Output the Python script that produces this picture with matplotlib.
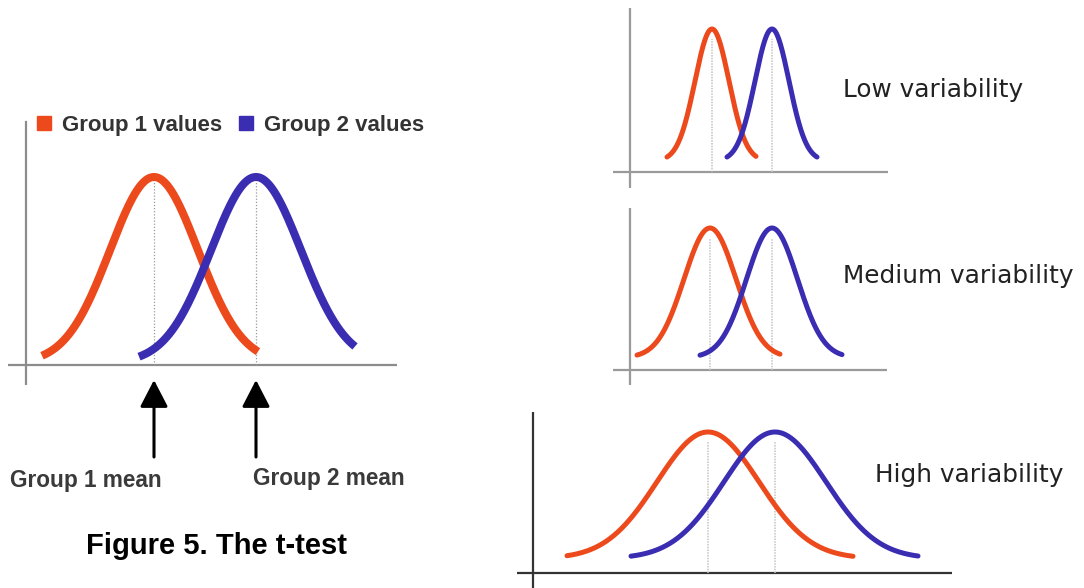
import numpy as np
import matplotlib
matplotlib.use('Agg')
import matplotlib.pyplot as plt
from matplotlib.lines import Line2D

# ---------------- data ----------------
series_labels = ['Group 1 values', 'Group 2 values']
mean_labels = ['Group 1 mean', 'Group 2 mean']
figure_title = 'Figure 5. The t-test'

# left panel: score units
left_means = [12.8, 23.0]
left_sds = [4.4, 4.5]
left_starts = [1.6, 11.3]
left_ends = [23.2, 32.9]
left_peak = 18.8
left_base = 0.2

# right panels
panel_titles = ['Low variability', 'Medium variability', 'High variability']
panel_means = [[8.2, 14.2], [8.0, 14.2], [17.5, 24.2]]
panel_sds = [[1.7, 1.7], [2.6, 2.55], [5.1, 5.1]]
panel_starts = [[3.7, 9.7], [0.7, 7.0], [3.4, 9.8]]
panel_ends = [[12.6, 18.7], [15.0, 21.2], [32.0, 38.5]]
panel_peaks = [14.3, 14.2, 14.1]
panel_bases = [1.1, 1.24, 1.45]

# ---------------- style / layout ----------------
W, H, DPI = 1084, 588, 100
RED = '#EC4A1C'
BLUE = '#3A2DB2'
COLORS = [RED, BLUE]
PX_PER_UNIT = 10.0

fig = plt.figure(figsize=(W / DPI, H / DPI), dpi=DPI)
fig.patch.set_facecolor('white')


def make_axes(x0, y0, x1, y1, ox, oy):
    """Axes occupying pixel box (x0,y0)-(x1,y1); data origin at pixel (ox, oy)."""
    ax = fig.add_axes([x0 / W, 1 - y1 / H, (x1 - x0) / W, (y1 - y0) / H])
    ax.set_xlim((x0 - ox) / PX_PER_UNIT, (x1 - ox) / PX_PER_UNIT)
    ax.set_ylim((oy - y1) / PX_PER_UNIT, (oy - y0) / PX_PER_UNIT)
    ax.set_axis_off()
    return ax


def curve(mu, sd, x0, x1, peak, base):
    x = np.linspace(x0, x1, 300)
    y = base + (peak - base) * np.exp(-0.5 * ((x - mu) / sd) ** 2)
    return x, y


# ---------------- left panel ----------------
axL = make_axes(8, 112, 397, 385, 26, 365)
axL.axhline(0, color='#8c8c8c', lw=1.6, zorder=1)
axL.axvline(0, ymax=((365 - 122) / 10 + 2.0) / ((365 - 112) / 10 + 2.0),
            color='#8c8c8c', lw=1.6, zorder=1)
for mu, sd, s, e, c in zip(left_means, left_sds, left_starts, left_ends, COLORS):
    x, y = curve(mu, sd, s, e, left_peak, left_base)
    axL.plot(x, y, color=c, lw=5.8, solid_capstyle='butt', zorder=3)
    axL.vlines(mu, 0, left_peak, color='#9a9a9a', lw=0.9,
               linestyles=(0, (1, 1.5)), zorder=2)
    axL.annotate('', xy=(mu, -1.5), xytext=(mu, -9.2), annotation_clip=False,
                 arrowprops=dict(arrowstyle='-|>,head_length=0.83,head_width=0.43',
                                 mutation_scale=20, color='black', lw=2.2,
                                 shrinkA=0, shrinkB=0))

handles = [Line2D([], [], marker='s', linestyle='none', markersize=9.4,
                  markerfacecolor=c, markeredgecolor=c) for c in COLORS]
fig.legend(handles, series_labels, loc='upper left',
           bbox_to_anchor=(36.5 / W, 1 - 115 / H), ncol=2, frameon=False,
           borderpad=0, borderaxespad=0, handlelength=0.68, handletextpad=0.47,
           columnspacing=0.72,
           prop=dict(family='Liberation Sans', weight='bold', size=16),
           labelcolor='#333333')

fig.text(10 / W, 1 - 487 / H, mean_labels[0], ha='left', va='baseline',
         family='Liberation Sans', weight='bold', fontsize=16.3, color='#3a3a3a')
fig.text(253 / W, 1 - 485 / H, mean_labels[1], ha='left', va='baseline',
         family='Liberation Sans', weight='bold', fontsize=16.3, color='#3a3a3a')
fig.text(217 / W, 1 - 554 / H, figure_title, ha='center', va='baseline',
         family='Liberation Sans', weight='bold', fontsize=21, color='black')

# ---------------- right panels ----------------
boxes = [(613, 8, 888, 188, 630, 172),
         (613, 208, 887, 385, 630, 370),
         (517, 412, 952, 588, 533, 573)]
axis_colors = ['#9a9a9a', '#9a9a9a', '#333333']
text_pos = [(843, 97), (843, 283), (875, 482)]

for i, box in enumerate(boxes):
    ax = make_axes(*box)
    ax.axhline(0, color=axis_colors[i], lw=1.6, zorder=1)
    ax.axvline(0, color=axis_colors[i], lw=1.6, zorder=1)
    for mu, sd, s, e, c in zip(panel_means[i], panel_sds[i], panel_starts[i],
                               panel_ends[i], COLORS):
        x, y = curve(mu, sd, s, e, panel_peaks[i], panel_bases[i])
        ax.plot(x, y, color=c, lw=3.6, solid_capstyle='round', zorder=3)
        ax.vlines(mu, 0, panel_peaks[i] * 0.93, color='#c4c4c4', lw=1.1,
                  linestyles=(0, (1, 0.8)), zorder=2)
    tx, ty = text_pos[i]
    fig.text(tx / W, 1 - ty / H, panel_titles[i], ha='left', va='baseline',
             family='DejaVu Sans', fontsize=17.8, color='#222222')

fig.savefig('out.png', dpi=DPI, facecolor='white')
